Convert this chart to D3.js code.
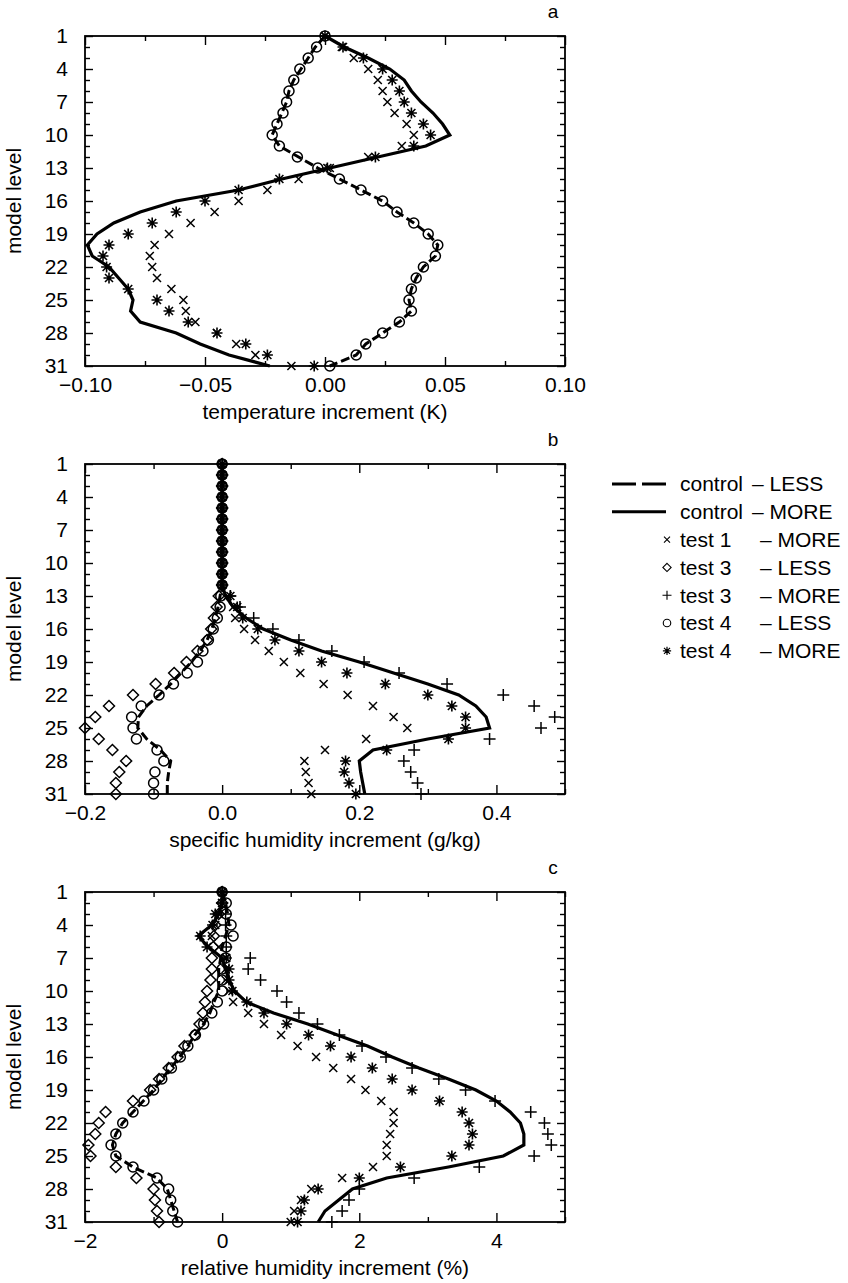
<!DOCTYPE html>
<html>
<head>
<meta charset="utf-8">
<script src="https://cdn.jsdelivr.net/npm/d3@7"></script>
<style>
  body { margin: 0; background: #fff; }
  svg { font-family: "Liberation Sans", Arial, Helvetica, sans-serif; }
  .axis text { font-size: 21px; fill: #000; }
  .axis path { display: none; }
  .axis line { stroke: #000; stroke-width: 1.4; }
</style>
</head>
<body>
<div id="chart"></div>
<script>
// model levels 1..31 on the y axis
const levels = d3.range(1, 32);
const levelTicks = [1, 4, 7, 10, 13, 16, 19, 22, 25, 28, 31];

// panel a: temperature increment (K)
const aControlLess = [0.000, -0.004, -0.007, -0.010, -0.013, -0.015, -0.016, -0.018, -0.020, -0.022, -0.019, -0.011, -0.003, 0.006, 0.015, 0.024, 0.030, 0.037, 0.043, 0.047, 0.046, 0.041, 0.038, 0.036, 0.035, 0.036, 0.031, 0.024, 0.017, 0.013, 0.002];
const aControlMore = [0.000, 0.008, 0.018, 0.027, 0.033, 0.036, 0.040, 0.045, 0.049, 0.052, 0.042, 0.022, 0.002, -0.018, -0.036, -0.062, -0.077, -0.088, -0.095, -0.099, -0.097, -0.090, -0.086, -0.082, -0.080, -0.081, -0.077, -0.062, -0.052, -0.040, -0.023];
const aTest1More = [0.000, 0.007, 0.012, 0.018, 0.022, 0.024, 0.026, 0.029, 0.034, 0.037, 0.032, 0.018, 0.002, -0.011, -0.024, -0.036, -0.046, -0.056, -0.065, -0.071, -0.073, -0.072, -0.070, -0.064, -0.059, -0.058, -0.054, -0.045, -0.037, -0.029, -0.014];
const aTest4Less = [0.000, -0.0035, -0.007, -0.0105, -0.013, -0.015, -0.016, -0.0175, -0.020, -0.022, -0.019, -0.0115, -0.003, 0.006, 0.015, 0.024, 0.030, 0.037, 0.043, 0.047, 0.046, 0.041, 0.038, 0.036, 0.035, 0.036, 0.031, 0.024, 0.017, 0.013, 0.002];
const aTest4More = [0.000, 0.0075, 0.016, 0.024, 0.028, 0.031, 0.033, 0.036, 0.041, 0.044, 0.037, 0.021, 0.001, -0.019, -0.036, -0.050, -0.062, -0.072, -0.082, -0.090, -0.0925, -0.091, -0.090, -0.082, -0.070, -0.065, -0.057, -0.045, -0.033, -0.024, -0.0045];

// panel b: specific humidity increment (g/kg)
const bControlLess = [0, 0, 0, 0, 0, 0, 0, 0, 0, 0, 0, 0, -0.003, -0.006, -0.010, -0.015, -0.022, -0.032, -0.045, -0.060, -0.075, -0.092, -0.110, -0.122, -0.123, -0.110, -0.090, -0.075, -0.078, -0.080, -0.080];
const bControlMore = [0, 0, 0, 0, 0, 0, 0, 0, 0, 0, 0, 0, 0.005, 0.016, 0.035, 0.060, 0.100, 0.145, 0.200, 0.250, 0.300, 0.345, 0.370, 0.385, 0.390, 0.300, 0.220, 0.200, 0.202, 0.205, 0.208];
const bTest1More = [0, 0, 0, 0, 0, 0, 0, 0, 0, 0, 0, 0, 0.008, 0.016, 0.019, 0.032, 0.048, 0.068, 0.090, 0.114, 0.148, 0.183, 0.220, 0.250, 0.270, 0.210, 0.150, 0.120, 0.122, 0.126, 0.130];
const bTest3Less = [0, 0, 0, 0, 0, 0, 0, 0, 0, 0, 0, 0, -0.005, -0.008, -0.012, -0.016, -0.022, -0.036, -0.052, -0.070, -0.097, -0.130, -0.165, -0.185, -0.200, -0.180, -0.160, -0.140, -0.150, -0.155, -0.155];
const bTest3More = [0, 0, 0, 0, 0, 0, 0, 0, 0, 0, 0, 0, 0.012, 0.026, 0.046, 0.074, 0.112, 0.160, 0.207, 0.258, 0.328, 0.410, 0.455, 0.485, 0.465, 0.390, 0.280, 0.265, 0.275, 0.285, 0.290];
const bTest4Less = [0, 0, 0, 0, 0, 0, 0, 0, 0, 0, 0, 0, -0.002, -0.003, -0.007, -0.013, -0.020, -0.028, -0.036, -0.051, -0.071, -0.092, -0.118, -0.132, -0.130, -0.125, -0.095, -0.085, -0.098, -0.100, -0.100];
const bTest4More = [0, 0, 0, 0, 0, 0, 0, 0, 0, 0, 0, 0, 0.012, 0.022, 0.030, 0.052, 0.077, 0.112, 0.145, 0.182, 0.238, 0.300, 0.335, 0.355, 0.355, 0.330, 0.240, 0.180, 0.178, 0.185, 0.195];

// panel c: relative humidity increment (%)
const cControlLess = [0, 0.05, 0.08, 0.10, 0.05, 0.00, -0.02, -0.05, -0.05, -0.05, -0.12, -0.18, -0.27, -0.40, -0.50, -0.62, -0.75, -0.88, -1.00, -1.15, -1.30, -1.45, -1.55, -1.60, -1.55, -1.30, -0.95, -0.80, -0.75, -0.70, -0.65];
const cControlMore = [0, 0.00, -0.05, -0.15, -0.35, -0.20, 0.00, 0.05, 0.10, 0.18, 0.35, 0.75, 1.25, 1.68, 2.12, 2.48, 2.87, 3.30, 3.70, 4.00, 4.20, 4.35, 4.40, 4.40, 4.10, 3.30, 2.40, 1.90, 1.70, 1.50, 1.40];
const cTest1More = [0, 0.00, -0.05, -0.10, -0.15, -0.05, 0.05, 0.05, 0.05, 0.10, 0.16, 0.38, 0.61, 0.86, 1.10, 1.37, 1.62, 1.88, 2.09, 2.32, 2.50, 2.50, 2.45, 2.40, 2.40, 2.20, 1.75, 1.30, 1.15, 1.05, 1.00];
const cTest3Less = [0, 0.00, -0.05, -0.10, -0.12, -0.13, -0.15, -0.15, -0.17, -0.22, -0.25, -0.28, -0.33, -0.40, -0.55, -0.65, -0.78, -0.92, -1.05, -1.30, -1.70, -1.80, -1.85, -1.95, -1.92, -1.55, -1.25, -1.00, -0.98, -0.95, -0.92];
const cTest3More = [0, 0.00, 0.05, 0.05, 0.06, 0.06, 0.41, 0.38, 0.56, 0.80, 0.94, 1.12, 1.39, 1.71, 2.04, 2.39, 2.77, 3.16, 3.55, 3.98, 4.50, 4.70, 4.75, 4.80, 4.55, 3.75, 2.80, 2.00, 1.85, 1.75, 1.60];
const cTest4Less = [0, 0.06, 0.06, 0.13, 0.16, 0.06, 0.05, 0.00, 0.00, 0.00, -0.07, -0.15, -0.27, -0.39, -0.50, -0.61, -0.74, -0.88, -1.00, -1.14, -1.30, -1.45, -1.55, -1.62, -1.55, -1.30, -0.95, -0.78, -0.75, -0.72, -0.65];
const cTest4More = [0, 0.00, -0.10, -0.14, -0.32, -0.22, 0.06, 0.10, 0.10, 0.15, 0.36, 0.61, 0.94, 1.26, 1.58, 1.88, 2.19, 2.48, 2.77, 3.17, 3.50, 3.60, 3.65, 3.60, 3.35, 2.60, 2.00, 1.40, 1.20, 1.15, 1.10];

const legendLabels = [
  ["control", "LESS"], ["control", "MORE"], ["test 1", "MORE"], ["test 3", "LESS"],
  ["test 3", "MORE"], ["test 4", "LESS"], ["test 4", "MORE"]
];

const width = 848, height = 1283;
const frame = { left: 85, width: 480, height: 330 };

const panels = [
  {
    letter: "a", top: 36, domain: [-0.1, 0.1], step: 0.025, major: [-0.1, -0.05, 0, 0.05, 0.1],
    fmt: d3.format(".2f"), title: "temperature increment (K)",
    less: aControlLess, more: aControlMore,
    marks: [["x", aTest1More], ["circle", aTest4Less], ["star", aTest4More]]
  },
  {
    letter: "b", top: 464, domain: [-0.2, 0.5], step: 0.1, major: [-0.2, 0, 0.2, 0.4],
    fmt: d3.format(".1f"), title: "specific humidity increment (g/kg)",
    less: bControlLess, more: bControlMore,
    marks: [["diamond", bTest3Less], ["circle", bTest4Less], ["x", bTest1More], ["plus", bTest3More], ["star", bTest4More]]
  },
  {
    letter: "c", top: 892, domain: [-2, 5], step: 1, major: [-2, 0, 2, 4],
    fmt: d3.format("d"), title: "relative humidity increment (%)",
    less: cControlLess, more: cControlMore,
    marks: [["diamond", cTest3Less], ["circle", cTest4Less], ["x", cTest1More], ["plus", cTest3More], ["star", cTest4More]]
  }
];

const minus = (s) => s.replace("-", "\u2212");

const svg = d3.select("#chart").append("svg")
  .attr("width", width).attr("height", height)
  .attr("viewBox", [0, 0, width, height]);

function markerPath(type) {
  const p = d3.path();
  if (type === "x") {
    const r = 4;
    p.moveTo(-r, -r); p.lineTo(r, r); p.moveTo(-r, r); p.lineTo(r, -r);
  } else if (type === "plus") {
    const r = 6;
    p.moveTo(-r, 0); p.lineTo(r, 0); p.moveTo(0, -r); p.lineTo(0, r);
  } else if (type === "star") {
    const r = 5.5, q = 4;
    p.moveTo(-r, 0); p.lineTo(r, 0); p.moveTo(0, -r); p.lineTo(0, r);
    p.moveTo(-q, -q); p.lineTo(q, q); p.moveTo(-q, q); p.lineTo(q, -q);
  } else if (type === "diamond") {
    const r = 5.5;
    p.moveTo(0, -r); p.lineTo(r, 0); p.lineTo(0, r); p.lineTo(-r, 0); p.closePath();
  } else if (type === "circle") {
    const r = 5;
    p.moveTo(r, 0); p.arc(0, 0, r, 0, 2 * Math.PI);
  }
  return p.toString();
}

function drawMarker(g, type, x, y, scale = 1) {
  g.append("path")
    .attr("d", markerPath(type))
    .attr("transform", `translate(${x},${y}) scale(${scale})`)
    .attr("fill", "none")
    .attr("stroke", "#000")
    .attr("stroke-width", type === "star" ? 1.6 : 1.5);
}

panels.forEach((p) => {
  const y0 = p.top, y1 = p.top + frame.height;
  const x = d3.scaleLinear().domain(p.domain).range([frame.left, frame.left + frame.width]);
  const y = d3.scaleLinear().domain([1, 31]).range([y0, y1]);
  const xTicks = d3.range(p.domain[0], p.domain[1] + p.step / 2, p.step).map((v) => +v.toFixed(4));
  const isMajor = (v) => p.major.some((m) => Math.abs(m - v) < 1e-6);

  const g = svg.append("g");

  // frame
  g.append("rect")
    .attr("x", frame.left).attr("y", y0)
    .attr("width", frame.width).attr("height", frame.height)
    .attr("fill", "none").attr("stroke", "#000").attr("stroke-width", 1.8);

  // bottom axis with labels
  g.append("g").attr("class", "axis")
    .attr("transform", `translate(0,${y1})`)
    .call(d3.axisBottom(x).tickValues(xTicks).tickSize(-9).tickPadding(11)
      .tickFormat((d) => (isMajor(d) ? minus(p.fmt(d)) : "")))
    .call((s) => s.selectAll(".tick line").attr("y2", (d) => (isMajor(d) ? -9 : -5)));

  // top axis, ticks only
  g.append("g").attr("class", "axis")
    .attr("transform", `translate(0,${y0})`)
    .call(d3.axisTop(x).tickValues(xTicks).tickSize(-9).tickFormat(""))
    .call((s) => s.selectAll(".tick line").attr("y2", (d) => (isMajor(d) ? 9 : 5)));

  // left axis with model levels
  g.append("g").attr("class", "axis")
    .attr("transform", `translate(${frame.left},0)`)
    .call(d3.axisLeft(y).tickValues(levels).tickSize(-8).tickPadding(17)
      .tickFormat((d) => (levelTicks.includes(d) ? d : "")))
    .call((s) => s.selectAll(".tick line").attr("x2", (d) => (levelTicks.includes(d) ? 8 : 5)));

  // right axis
  g.append("g").attr("class", "axis")
    .attr("transform", `translate(${frame.left + frame.width},0)`)
    .call(d3.axisRight(y).tickValues(levels).tickSize(-8).tickFormat(""))
    .call((s) => s.selectAll(".tick line").attr("x2", (d) => (levelTicks.includes(d) ? -8 : -5)));

  // axis titles and panel letter
  g.append("text")
    .attr("x", frame.left + frame.width / 2).attr("y", y1 + 53)
    .attr("text-anchor", "middle").attr("font-size", 21)
    .text(p.title);
  g.append("text")
    .attr("transform", `translate(21,${(y0 + y1) / 2}) rotate(-90)`)
    .attr("text-anchor", "middle").attr("font-size", 21)
    .text("model level");
  g.append("text")
    .attr("x", 553).attr("y", y0 - 18)
    .attr("text-anchor", "middle").attr("font-size", 19)
    .text(p.letter);

  const line = d3.line().x((d) => x(d[1])).y((d) => y(d[0]));

  g.append("path")
    .datum(levels.map((l, i) => [l, p.less[i]]))
    .attr("d", line)
    .attr("fill", "none").attr("stroke", "#000")
    .attr("stroke-width", 3).attr("stroke-dasharray", "9,4");
  g.append("path")
    .datum(levels.map((l, i) => [l, p.more[i]]))
    .attr("d", line)
    .attr("fill", "none").attr("stroke", "#000")
    .attr("stroke-width", 3.2);

  p.marks.forEach(([type, values]) => {
    const mg = g.append("g");
    values.forEach((v, i) => drawMarker(mg, type, x(v), y(levels[i])));
  });
});

// legend
const legend = svg.append("g");
legendLabels.forEach(([name, mode], i) => {
  const ly = 484 + i * 27.8;
  if (i < 2) {
    legend.append("line")
      .attr("x1", 612).attr("x2", 666).attr("y1", ly).attr("y2", ly)
      .attr("stroke", "#000").attr("stroke-width", 3)
      .attr("stroke-dasharray", i === 0 ? "24,6" : null);
  } else {
    const type = ["x", "diamond", "plus", "circle", "star"][i - 2];
    drawMarker(legend, type, 667, ly, 0.75);
  }
  legend.append("text").attr("x", 680).attr("y", ly).attr("dy", "0.35em")
    .attr("font-size", 21).text(name);
  legend.append("text").attr("x", i < 2 ? 752 : 760).attr("y", ly).attr("dy", "0.35em")
    .attr("font-size", 21).text("\u2013 " + mode);
});
</script>
</body>
</html>
